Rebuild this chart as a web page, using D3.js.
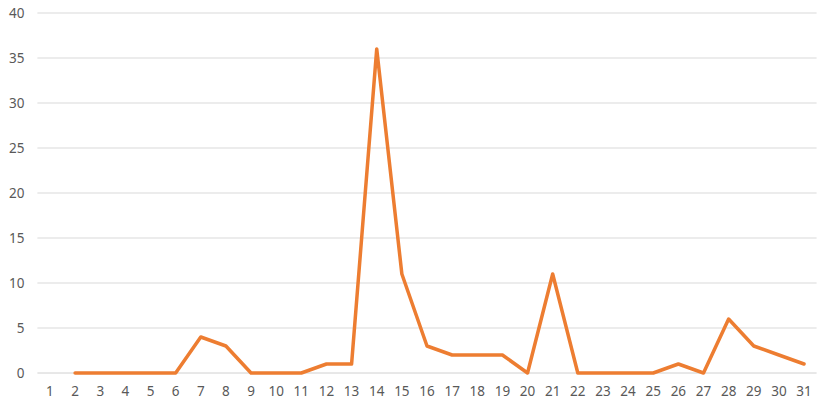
<!DOCTYPE html>
<html>
<head>
<meta charset="utf-8">
<script src="https://cdn.jsdelivr.net/npm/d3@7"></script>
<style>
  body { margin: 0; background: #fff; }
  svg { display: block; }
  .tick text { font-family: "Noto Sans", "Open Sans", sans-serif; font-size: 13.5px; fill: #595959; }
</style>
</head>
<body>
<svg width="831" height="409"></svg>
<script>
const days = d3.range(1, 32).map(String);
// day 1 has no value
const values = [null, 0, 0, 0, 0, 0, 4, 3, 0, 0, 0, 1, 1, 36, 11, 3, 2, 2, 2, 0, 11, 0, 0, 0, 0, 1, 0, 6, 3, 2, 1];
const yTicks = [0, 5, 10, 15, 20, 25, 30, 35, 40];

const svg = d3.select('svg');
const plotLeft = 37.4, plotRight = 816.6, plotTop = 13, plotBottom = 373;

const x = d3.scaleBand().domain(days).range([plotLeft, plotRight]);
const y = d3.scaleLinear().domain([0, 40]).range([plotBottom, plotTop]);

// gridlines
svg.append('g')
  .selectAll('line')
  .data(yTicks)
  .enter()
  .append('line')
  .attr('x1', plotLeft)
  .attr('x2', plotRight)
  .attr('y1', d => y(d))
  .attr('y2', d => y(d))
  .attr('stroke', d => d === 0 ? '#d0d0d0' : '#d9d9d9')
  .attr('stroke-width', 1);

const yAxis = d3.axisLeft(y).tickValues(yTicks).tickSize(0).tickPadding(13);
svg.append('g')
  .attr('transform', 'translate(' + plotLeft + ',0)')
  .call(yAxis)
  .call(g => g.select('.domain').remove());

const xAxis = d3.axisBottom(x).tickSize(0).tickPadding(13);
svg.append('g')
  .attr('transform', 'translate(0,' + plotBottom + ')')
  .call(xAxis)
  .call(g => g.select('.domain').remove());

const line = d3.line()
  .defined(d => d[1] !== null)
  .x(d => x(d[0]) + x.bandwidth() / 2)
  .y(d => y(d[1]));

svg.append('path')
  .datum(days.map((d, i) => [d, values[i]]))
  .attr('d', line)
  .attr('fill', 'none')
  .attr('stroke', '#ED7D31')
  .attr('stroke-width', 3.5)
  .attr('stroke-linejoin', 'round')
  .attr('stroke-linecap', 'round');
</script>
</body>
</html>
